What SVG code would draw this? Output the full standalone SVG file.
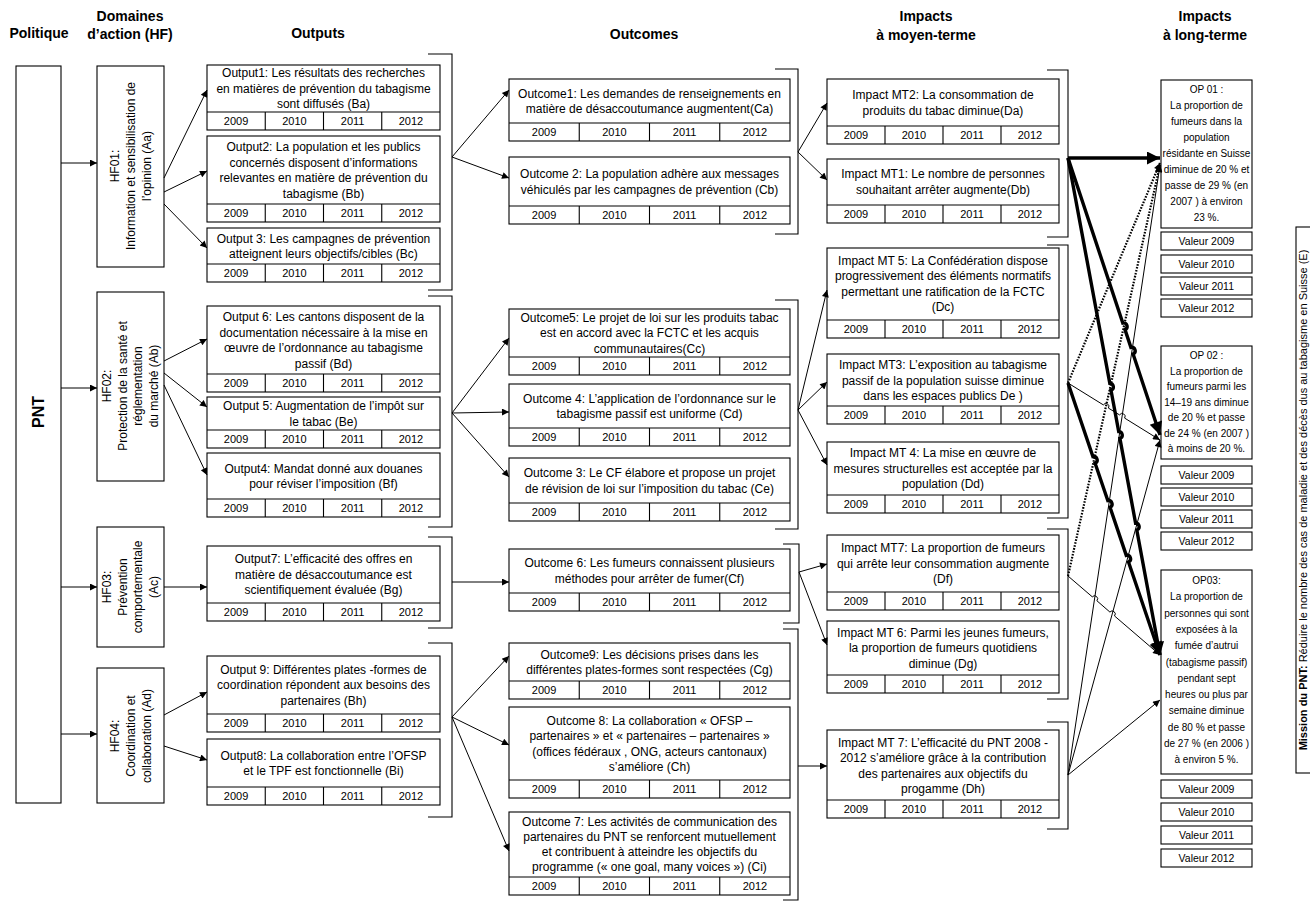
<svg xmlns="http://www.w3.org/2000/svg" xmlns:xlink="http://www.w3.org/1999/xlink" width="1310" height="904" viewBox="0 0 1310 904">
<style>
text{font-family:"Liberation Sans",Arial,sans-serif;fill:#000}
.b{fill:#fff;stroke:#000;stroke-width:1.1}
.l{stroke:#000;stroke-width:1.1;fill:none}
.t{font-size:12px;text-anchor:middle}
.y{font-size:11px;text-anchor:middle}
.h{font-size:14px;font-weight:bold;text-anchor:middle}
.op{font-size:10px;text-anchor:middle}
.v{font-size:10.5px;text-anchor:middle}
.br{stroke:#000;stroke-width:1.1;fill:none}
.c{stroke:#000;stroke-width:1;fill:none;marker-end:url(#ah)}
.k{stroke:#000;stroke-width:3.4;fill:none;marker-end:url(#ahT)}
.d{stroke:#000;stroke-width:2.2;fill:none;stroke-dasharray:1.6 1.4;marker-end:url(#ah)}
</style>
<defs>
<marker id="ah" viewBox="0 0 10 10" refX="10" refY="5" markerWidth="9" markerHeight="7" markerUnits="userSpaceOnUse" orient="auto"><path d="M0,0 L10,5 L0,10 z"/></marker>
<marker id="ahT" viewBox="0 0 10 10" refX="10" refY="5" markerWidth="18" markerHeight="13" markerUnits="userSpaceOnUse" orient="auto"><path d="M0,0 L10,5 L0,10 z"/></marker>
<g id="yrA"><path class="l" d="M0,0H233M58.25,0V18M116.5,0V18M174.75,0V18"/><text class="y" y="13"><tspan x="29.1">2009</tspan><tspan x="87.4">2010</tspan><tspan x="145.6">2011</tspan><tspan x="203.9">2012</tspan></text></g>
<g id="yrB"><path class="l" d="M0,0H281M70.25,0V18M140.5,0V18M210.75,0V18"/><text class="y" y="13"><tspan x="35.1">2009</tspan><tspan x="105.4">2010</tspan><tspan x="175.6">2011</tspan><tspan x="245.9">2012</tspan></text></g>
<g id="yrC"><path class="l" d="M0,0H232M58,0V18M116,0V18M174,0V18"/><text class="y" y="13"><tspan x="29">2009</tspan><tspan x="87">2010</tspan><tspan x="145">2011</tspan><tspan x="203">2012</tspan></text></g>
</defs>
<rect width="1310" height="904" fill="#fff"/>

<g id="headers">
<text class="h" x="39" y="38">Politique</text>
<text class="h" x="130" y="21">Domaines</text>
<text class="h" x="130" y="39">d’action (HF)</text>
<text class="h" x="318" y="38">Outputs</text>
<text class="h" x="644" y="39">Outcomes</text>
<text class="h" x="926" y="21">Impacts</text>
<text class="h" x="926" y="40">à moyen-terme</text>
<text class="h" x="1205" y="21">Impacts</text>
<text class="h" x="1205" y="40">à long-terme</text>
</g>

<g id="pnt">
<rect class="b" x="16" y="66" width="45" height="737"/>
<text transform="translate(44,412) rotate(-90)" style="font-size:16px;font-weight:bold;text-anchor:middle">PNT</text>
</g>

<g id="hf01">
<rect class="b" x="97" y="66" width="67" height="201"/>
<text class="t" transform="translate(130.5,166) rotate(-90)"><tspan x="0" y="-12">HF01:</tspan><tspan x="0" y="4">Information et sensibilisation de</tspan><tspan x="0" y="20">l’opinion (Aa)</tspan></text>
</g>
<g id="hf02">
<rect class="b" x="97" y="292" width="67" height="189"/>
<text class="t" transform="translate(130.5,386) rotate(-90)"><tspan x="0" y="-19.5">HF02:</tspan><tspan x="0" y="-3.8">Protection de la santé et</tspan><tspan x="0" y="11.8">réglementation</tspan><tspan x="0" y="27.5">du marché (Ab)</tspan></text>
</g>
<g id="hf03">
<rect class="b" x="97" y="527" width="67" height="120"/>
<text class="t" transform="translate(130.5,587) rotate(-90)"><tspan x="0" y="-19.5">HF03:</tspan><tspan x="0" y="-3.8">Prévention</tspan><tspan x="0" y="11.8">comportementale</tspan><tspan x="0" y="27.5">(Ac)</tspan></text>
</g>
<g id="hf04">
<rect class="b" x="97" y="668" width="67" height="135"/>
<text class="t" transform="translate(130.5,736) rotate(-90)"><tspan x="0" y="-12">HF04:</tspan><tspan x="0" y="4">Coordination et</tspan><tspan x="0" y="20">collaboration (Ad)</tspan></text>
</g>

<g id="output1"><rect class="b" x="207" y="65" width="233" height="65"/><use href="#yrA" x="207" y="112"/>
<text class="t"><tspan x="323.5" y="77.3">Output1: Les résultats des recherches</tspan><tspan x="323.5" y="92.8">en matières de prévention du tabagisme</tspan><tspan x="323.5" y="108.3">sont diffusés (Ba)</tspan></text></g>
<g id="output2"><rect class="b" x="207" y="136" width="233" height="86"/><use href="#yrA" x="207" y="204"/>
<text class="t"><tspan x="323.5" y="151">Output2: La population et les publics</tspan><tspan x="323.5" y="166.5">concernés disposent d’informations</tspan><tspan x="323.5" y="182">relevantes en matière de prévention du</tspan><tspan x="323.5" y="197.5">tabagisme (Bb)</tspan></text></g>
<g id="output3"><rect class="b" x="207" y="228" width="233" height="54"/><use href="#yrA" x="207" y="264"/>
<text class="t"><tspan x="323.5" y="242.5">Output 3: Les campagnes de prévention</tspan><tspan x="323.5" y="258">atteignent leurs objectifs/cibles (Bc)</tspan></text></g>
<g id="output6"><rect class="b" x="207" y="306" width="233" height="86"/><use href="#yrA" x="207" y="374"/>
<text class="t"><tspan x="323.5" y="321">Output 6: Les cantons disposent de la</tspan><tspan x="323.5" y="336.5">documentation nécessaire à la mise en</tspan><tspan x="323.5" y="352">œuvre de l’ordonnance au tabagisme</tspan><tspan x="323.5" y="367.5">passif (Bd)</tspan></text></g>
<g id="output5"><rect class="b" x="207" y="397" width="233" height="51"/><use href="#yrA" x="207" y="430"/>
<text class="t"><tspan x="323.5" y="410">Output 5: Augmentation de l’impôt sur</tspan><tspan x="323.5" y="425.5">le tabac (Be)</tspan></text></g>
<g id="output4"><rect class="b" x="207" y="453" width="233" height="64"/><use href="#yrA" x="207" y="499"/>
<text class="t"><tspan x="323.5" y="472.5">Output4: Mandat donné aux douanes</tspan><tspan x="323.5" y="488">pour réviser l’imposition (Bf)</tspan></text></g>
<g id="output7"><rect class="b" x="207" y="546" width="233" height="75"/><use href="#yrA" x="207" y="603"/>
<text class="t"><tspan x="323.5" y="563.3">Output7: L’efficacité des offres en</tspan><tspan x="323.5" y="578.8">matière de désaccoutumance est</tspan><tspan x="323.5" y="594.3">scientifiquement évaluée (Bg)</tspan></text></g>
<g id="output9"><rect class="b" x="207" y="656" width="233" height="76"/><use href="#yrA" x="207" y="714"/>
<text class="t"><tspan x="323.5" y="673.8">Output 9: Différentes plates -formes de</tspan><tspan x="323.5" y="689.3">coordination répondent aux besoins des</tspan><tspan x="323.5" y="704.8">partenaires (Bh)</tspan></text></g>
<g id="output8"><rect class="b" x="207" y="739" width="233" height="66"/><use href="#yrA" x="207" y="787"/>
<text class="t"><tspan x="323.5" y="759.5">Output8: La collaboration entre l’OFSP</tspan><tspan x="323.5" y="775">et le TPF est fonctionnelle (Bi)</tspan></text></g>

<g id="outcome1"><rect class="b" x="509" y="79" width="281" height="62"/><use href="#yrB" x="509" y="123"/>
<text class="t"><tspan x="649.5" y="97.5">Outcome1: Les demandes de renseignements en</tspan><tspan x="649.5" y="113">matière de désaccoutumance augmentent(Ca)</tspan></text></g>
<g id="outcome2"><rect class="b" x="509" y="157" width="281" height="67"/><use href="#yrB" x="509" y="206"/>
<text class="t"><tspan x="649.5" y="178">Outcome 2: La population adhère aux messages</tspan><tspan x="649.5" y="193.5">véhiculés par les campagnes de prévention (Cb)</tspan></text></g>
<g id="outcome5"><rect class="b" x="509" y="309" width="281" height="66"/><use href="#yrB" x="509" y="357"/>
<text class="t"><tspan x="649.5" y="321.8">Outcome5: Le projet de loi sur les produits tabac</tspan><tspan x="649.5" y="337.3">est en accord avec la FCTC et les acquis</tspan><tspan x="649.5" y="352.8">communautaires(Cc)</tspan></text></g>
<g id="outcome4"><rect class="b" x="509" y="384" width="281" height="62"/><use href="#yrB" x="509" y="428"/>
<text class="t"><tspan x="649.5" y="402.5">Outcome 4: L’application de l’ordonnance sur le</tspan><tspan x="649.5" y="418">tabagisme passif est uniforme (Cd)</tspan></text></g>
<g id="outcome3"><rect class="b" x="509" y="458" width="281" height="63"/><use href="#yrB" x="509" y="503"/>
<text class="t"><tspan x="649.5" y="477">Outcome 3: Le CF élabore et propose un projet</tspan><tspan x="649.5" y="492.5">de révision de loi sur l’imposition du tabac (Ce)</tspan></text></g>
<g id="outcome6"><rect class="b" x="509" y="549" width="281" height="62"/><use href="#yrB" x="509" y="593"/>
<text class="t"><tspan x="649.5" y="567">Outcome 6: Les fumeurs connaissent plusieurs</tspan><tspan x="649.5" y="582.5">méthodes pour arrêter de fumer(Cf)</tspan></text></g>
<g id="outcome9"><rect class="b" x="509" y="643" width="281" height="56"/><use href="#yrB" x="509" y="681"/>
<text class="t"><tspan x="649.5" y="658.5">Outcome9: Les décisions prises dans les</tspan><tspan x="649.5" y="674">différentes plates-formes sont respectées (Cg)</tspan></text></g>
<g id="outcome8"><rect class="b" x="509" y="707" width="281" height="91"/><use href="#yrB" x="509" y="780"/>
<text class="t"><tspan x="649.5" y="724.5">Outcome 8: La collaboration « OFSP –</tspan><tspan x="649.5" y="740">partenaires » et « partenaires – partenaires »</tspan><tspan x="649.5" y="755.5">(offices fédéraux , ONG, acteurs cantonaux)</tspan><tspan x="649.5" y="771">s’améliore (Ch)</tspan></text></g>
<g id="outcome7"><rect class="b" x="509" y="812" width="281" height="83"/><use href="#yrB" x="509" y="877"/>
<text class="t"><tspan x="649.5" y="826">Outcome 7: Les activités de communication des</tspan><tspan x="649.5" y="841">partenaires du PNT se renforcent mutuellement</tspan><tspan x="649.5" y="856">et contribuent à atteindre les objectifs du</tspan><tspan x="649.5" y="871">programme (« one goal, many voices ») (Ci)</tspan></text></g>

<g id="impact-da"><rect class="b" x="827" y="79" width="232" height="65"/><use href="#yrC" x="827" y="126"/>
<text class="t"><tspan x="943" y="99">Impact MT2: La consommation de</tspan><tspan x="943" y="114.5">produits du tabac diminue(Da)</tspan></text></g>
<g id="impact-db"><rect class="b" x="827" y="159" width="232" height="64"/><use href="#yrC" x="827" y="205"/>
<text class="t"><tspan x="943" y="178">Impact MT1: Le nombre de personnes</tspan><tspan x="943" y="193.5">souhaitant arrêter augmente(Db)</tspan></text></g>
<g id="impact-dc"><rect class="b" x="827" y="248" width="232" height="90"/><use href="#yrC" x="827" y="320"/>
<text class="t"><tspan x="943" y="264.5">Impact MT 5: La Confédération dispose</tspan><tspan x="943" y="280">progressivement des éléments normatifs</tspan><tspan x="943" y="295.5">permettant une ratification de la FCTC</tspan><tspan x="943" y="311">(Dc)</tspan></text></g>
<g id="impact-de"><rect class="b" x="827" y="354" width="232" height="70"/><use href="#yrC" x="827" y="406"/>
<text class="t"><tspan x="943" y="369">Impact MT3: L’exposition au tabagisme</tspan><tspan x="943" y="384.5">passif de la population suisse diminue</tspan><tspan x="943" y="400">dans les espaces publics De )</tspan></text></g>
<g id="impact-dd"><rect class="b" x="827" y="442" width="232" height="71"/><use href="#yrC" x="827" y="495"/>
<text class="t"><tspan x="943" y="457">Impact MT 4: La mise en œuvre de</tspan><tspan x="943" y="472.5">mesures structurelles est acceptée par la</tspan><tspan x="943" y="488">population (Dd)</tspan></text></g>
<g id="impact-df"><rect class="b" x="827" y="535" width="232" height="75"/><use href="#yrC" x="827" y="592"/>
<text class="t"><tspan x="943" y="552.3">Impact MT7: La proportion de fumeurs</tspan><tspan x="943" y="567.8">qui arrête leur consommation augmente</tspan><tspan x="943" y="583.3">(Df)</tspan></text></g>
<g id="impact-dg"><rect class="b" x="827" y="621" width="232" height="72"/><use href="#yrC" x="827" y="675"/>
<text class="t"><tspan x="943" y="636.8">Impact MT 6: Parmi les jeunes fumeurs,</tspan><tspan x="943" y="652.3">la proportion de fumeurs quotidiens</tspan><tspan x="943" y="667.8">diminue (Dg)</tspan></text></g>
<g id="impact-dh"><rect class="b" x="827" y="730" width="232" height="88"/><use href="#yrC" x="827" y="800"/>
<text class="t"><tspan x="943" y="746.5">Impact MT 7: L’efficacité du PNT 2008 -</tspan><tspan x="943" y="762">2012 s’améliore grâce à la contribution</tspan><tspan x="943" y="777.5">des partenaires aux objectifs du</tspan><tspan x="943" y="793">progamme (Dh)</tspan></text></g>

<g id="op01"><rect class="b" x="1161" y="80" width="91" height="148"/>
<text class="op"><tspan x="1206.5" y="93">OP 01 :</tspan><tspan x="1206.5" y="109">La proportion de</tspan><tspan x="1206.5" y="125">fumeurs dans la</tspan><tspan x="1206.5" y="141">population</tspan><tspan x="1206.5" y="157">résidante en Suisse</tspan><tspan x="1206.5" y="173">diminue de 20 % et</tspan><tspan x="1206.5" y="189">passe de 29 % (en</tspan><tspan x="1206.5" y="205">2007 ) à environ</tspan><tspan x="1206.5" y="221">23 %.</tspan></text>
<rect class="b" x="1161" y="232" width="91" height="18"/><rect class="b" x="1161" y="255" width="91" height="18"/><rect class="b" x="1161" y="277" width="91" height="18"/><rect class="b" x="1161" y="299" width="91" height="18"/>
<text class="v"><tspan x="1206.5" y="245">Valeur 2009</tspan><tspan x="1206.5" y="268">Valeur 2010</tspan><tspan x="1206.5" y="290">Valeur 2011</tspan><tspan x="1206.5" y="312">Valeur 2012</tspan></text></g>

<g id="op02"><rect class="b" x="1161" y="346" width="91" height="113"/>
<text class="op"><tspan x="1206.5" y="359">OP 02 :</tspan><tspan x="1206.5" y="374.5">La proportion de</tspan><tspan x="1206.5" y="390">fumeurs parmi les</tspan><tspan x="1206.5" y="405.5">14–19 ans diminue</tspan><tspan x="1206.5" y="421">de 20 % et passe</tspan><tspan x="1206.5" y="436.5">de 24 % (en 2007 )</tspan><tspan x="1206.5" y="452">à moins de 20 %.</tspan></text>
<rect class="b" x="1161" y="466" width="91" height="18"/><rect class="b" x="1161" y="488" width="91" height="18"/><rect class="b" x="1161" y="510" width="91" height="18"/><rect class="b" x="1161" y="532" width="91" height="18"/>
<text class="v"><tspan x="1206.5" y="479">Valeur 2009</tspan><tspan x="1206.5" y="501">Valeur 2010</tspan><tspan x="1206.5" y="523">Valeur 2011</tspan><tspan x="1206.5" y="545">Valeur 2012</tspan></text></g>

<g id="op03"><rect class="b" x="1161" y="570" width="91" height="204"/>
<text class="op"><tspan x="1206.5" y="584">OP03:</tspan><tspan x="1206.5" y="600.3">La proportion de</tspan><tspan x="1206.5" y="616.6">personnes qui sont</tspan><tspan x="1206.5" y="632.9">exposées à la</tspan><tspan x="1206.5" y="649.2">fumée d’autrui</tspan><tspan x="1206.5" y="665.5">(tabagisme passif)</tspan><tspan x="1206.5" y="681.8">pendant sept</tspan><tspan x="1206.5" y="698.1">heures ou plus par</tspan><tspan x="1206.5" y="714.4">semaine diminue</tspan><tspan x="1206.5" y="730.7">de 80 % et passe</tspan><tspan x="1206.5" y="747">de 27 % (en 2006 )</tspan><tspan x="1206.5" y="763.3">à environ 5 %.</tspan></text>
<rect class="b" x="1161" y="780" width="91" height="18"/><rect class="b" x="1161" y="803" width="91" height="18"/><rect class="b" x="1161" y="826" width="91" height="18"/><rect class="b" x="1161" y="849" width="91" height="18"/>
<text class="v"><tspan x="1206.5" y="793">Valeur 2009</tspan><tspan x="1206.5" y="816">Valeur 2010</tspan><tspan x="1206.5" y="839">Valeur 2011</tspan><tspan x="1206.5" y="862">Valeur 2012</tspan></text></g>

<g id="mission"><rect class="b" x="1296" y="227" width="30" height="546"/>
<text transform="translate(1307,500) rotate(-90)" style="font-size:11px;text-anchor:middle"><tspan font-weight="bold">Mission du PNT: </tspan>Réduire le nombre des cas de maladie et des décès dus au tabagisme en Suisse (E)</text></g>

<g id="brackets">
<path class="br" d="M428,54H452V290H428M428,296H452V527H428M428,537H452V628H428M428,643H452V817H428"/>
<path class="br" d="M775,69H798V234H775M775,300H798V529H775M783,544H799V623H783M783,629H798V900H783"/>
<path class="br" d="M1047,70H1068V237H1047M1047,245H1068V518H1047M1047,529H1068V699H1047M1047,722H1068V829H1047"/>
</g>

<g id="connectors">
<line class="c" x1="61" y1="163" x2="97" y2="163"/>
<line class="c" x1="61" y1="388" x2="97" y2="388"/>
<line class="c" x1="61" y1="587" x2="97" y2="587"/>
<line class="c" x1="61" y1="734" x2="97" y2="734"/>
<line class="c" x1="164" y1="178" x2="207" y2="90"/>
<line class="c" x1="164" y1="192" x2="207" y2="171"/>
<line class="c" x1="164" y1="204" x2="207" y2="248"/>
<line class="c" x1="164" y1="361" x2="207" y2="339"/>
<line class="c" x1="164" y1="373" x2="207" y2="407"/>
<line class="c" x1="164" y1="385" x2="207" y2="475"/>
<line class="c" x1="164" y1="587" x2="207" y2="587"/>
<line class="c" x1="164" y1="715" x2="207" y2="692"/>
<line class="c" x1="164" y1="746" x2="207" y2="760"/>
<line class="c" x1="452" y1="157" x2="509" y2="90"/>
<line class="c" x1="452" y1="157" x2="509" y2="178"/>
<line class="c" x1="452" y1="413" x2="509" y2="338"/>
<line class="c" x1="452" y1="413" x2="509" y2="412"/>
<line class="c" x1="452" y1="413" x2="509" y2="477"/>
<line class="c" x1="452" y1="582" x2="509" y2="582"/>
<line class="c" x1="452" y1="717" x2="509" y2="656"/>
<line class="c" x1="452" y1="717" x2="509" y2="745"/>
<line class="c" x1="452" y1="717" x2="509" y2="851"/>
<line class="c" x1="798" y1="152" x2="827" y2="103"/>
<line class="c" x1="798" y1="152" x2="827" y2="180"/>
<line class="c" x1="798" y1="410" x2="827" y2="290"/>
<line class="c" x1="798" y1="410" x2="827" y2="382"/>
<line class="c" x1="798" y1="410" x2="827" y2="465"/>
<line class="c" x1="799" y1="572" x2="827" y2="564"/>
<line class="c" x1="799" y1="572" x2="827" y2="645"/>
<line class="c" x1="798" y1="766" x2="827" y2="766"/>
<line class="k" x1="1068" y1="158" x2="1160" y2="158"/>
<path class="k" d="M1068,158 L1122.8,323 A3.5,3.5 0 0 1 1125,329.6 L1130.9,347.4 A3.5,3.5 0 0 1 1133.1,354 L1160,435"/>
<path class="k" d="M1068,158 L1109.8,383.4 A3.5,3.5 0 0 1 1111,390.2 L1118.7,431.6 A3.5,3.5 0 0 1 1119.9,438.4 L1135.6,523.2 A3.5,3.5 0 0 1 1136.8,530 L1160,655"/>
<line class="d" x1="1068" y1="383" x2="1160" y2="163"/>
<path class="c" d="M1068,383 L1103.35,404.9 A3,3 0 0 1 1108.45,408.1 L1119.55,414.9 A3,3 0 0 1 1124.65,418.1 L1160,440"/>
<path class="k" d="M1068,383 L1092.9,456.6 A3.5,3.5 0 0 1 1095.1,463.2 L1107.8,500.6 A3.5,3.5 0 0 1 1110,507.2 L1126.3,555.4 A3.5,3.5 0 0 1 1128.5,562 L1160,655"/>
<line class="d" x1="1068" y1="576" x2="1160" y2="165"/>
<path class="c" d="M1068,576 L1092.3,596.85 A3,3 0 0 1 1096.9,600.75 L1109.9,612.05 A3,3 0 0 1 1114.5,615.95 L1160,655"/>
<line class="c" x1="1068" y1="775" x2="1160" y2="165"/>
<line class="c" x1="1068" y1="775" x2="1160" y2="440"/>
<line class="c" x1="1068" y1="775" x2="1160" y2="700"/>
</g>
</svg>
